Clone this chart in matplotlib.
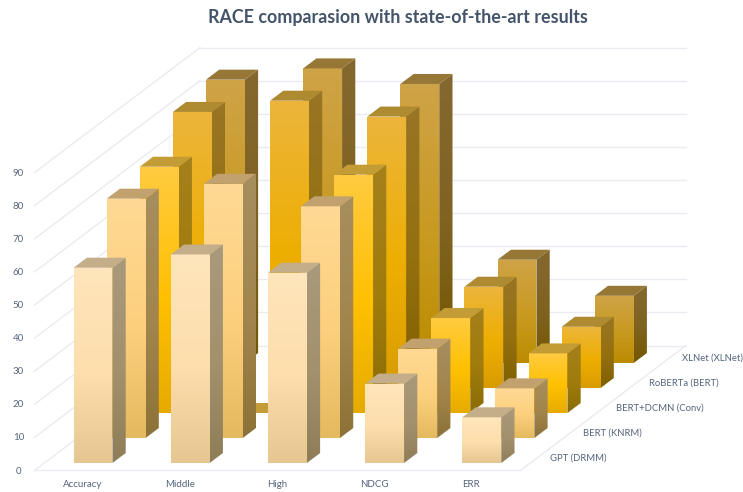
import numpy as np
import matplotlib
matplotlib.use("Agg")
import matplotlib.pyplot as plt
from matplotlib.colors import LinearSegmentedColormap
from matplotlib.patches import Polygon

title = "RACE comparasion with state-of-the-art results"
categories = ["Accuracy", "Middle", "High", "NDCG", "ERR"]
series_names = ["GPT (DRMM)", "BERT (KNRM)", "BERT+DCMN (Conv)", "RoBERTa (BERT)", "XLNet (XLNet)"]
gpt = [59, 63, 57.5, 24, 13.8]
bert = [72.3, 76.8, 70, 27, 15]
conv = [74.4, 0, 72, 28.7, 18]
roberta = [83.4, 86.8, 82, 30.6, 18.5]
xlnet = [85.6, 89, 84.3, 31.2, 20.3]
values = [gpt, bert, conv, roberta, xlnet]
yticks = list(range(0, 100, 10))

front_cols = [["#FFE5BB", "#FDDEAC", "#E6C791"], ["#FFD994", "#FCCF7C", "#E5B95F"],
              ["#FFCB40", "#FFC000", "#E6AB00"], ["#ECB53C", "#EEAE00", "#D89C00"],
              ["#CFA347", "#C89A20", "#BB8C00"]]
side_cols = [["#A99A7C", "#A3906C", "#8F7D58"], ["#A68E5E", "#A2854C", "#8C7238"],
             ["#A5801C", "#A07C0C", "#8A6C06"], ["#997525", "#94700F", "#7F5F00"],
             ["#84682F", "#806220", "#745700"]]
top_cols = ["#C4AD89", "#C1A26E", "#C39C36", "#AE8A31", "#967736"]

GRID = "#E9EBF1"
TXT = "#56657B"

fig = plt.figure(figsize=(7.43, 4.92), dpi=100)
ax = fig.add_axes([0, 0, 1, 1])
ax.axis("off")


def project(c, s, v):
    return 34.5 + 97.2 * c + 33.1 * s, 470.5 - 25.0 * s - 3.31 * v


def grad_face(pts, cols, z):
    pts = np.array(pts)
    poly = Polygon(pts, closed=True, fc="none", ec="none", transform=ax.transData)
    ax.add_patch(poly)
    cm = LinearSegmentedColormap.from_list("g", list(zip([0, 0.55, 1], cols)))
    im = ax.imshow(np.linspace(0, 1, 128)[:, None], cmap=cm, aspect="auto", zorder=z,
                   extent=(pts[:, 0].min(), pts[:, 0].max(), pts[:, 1].max(), pts[:, 1].min()),
                   interpolation="bilinear", origin="upper")
    im.set_clip_path(poly)


nc, ns = len(categories), len(series_names)
# walls and floor
for t in yticks:
    ax.plot(*zip(project(0, 0, t), project(0, ns, t)), color=GRID, lw=1, zorder=1)
    ax.plot(*zip(project(0, ns, t), project(nc, ns, t)), color=GRID, lw=1, zorder=1)
    x, y = project(0, 0, t)
    ax.text(18.5, y + 0.5, str(t), ha="center", va="center", fontsize=7, color=TXT, family="Lato")
ax.plot(*zip(project(0, 0, 0), project(nc, 0, 0), project(nc, ns, 0)), color=GRID, lw=1, zorder=1)

# bars, back to front
z = 2
for j in range(ns - 1, -1, -1):
    for i in range(nc):
        v = values[j][i]
        c0, c1, s0, s1 = i + 0.3, i + 0.7, j + 0.3, j + 0.7
        front = [project(c0, s0, v), project(c1, s0, v), project(c1, s0, 0), project(c0, s0, 0)]
        side = [project(c1, s0, v), project(c1, s1, v), project(c1, s1, 0), project(c1, s0, 0)]
        top = [project(c0, s0, v), project(c1, s0, v), project(c1, s1, v), project(c0, s1, v)]
        if v > 0:
            grad_face(side, side_cols[j], z)
            grad_face(front, front_cols[j], z + 0.1)
        ax.add_patch(Polygon(top, closed=True, fc=top_cols[j], ec="none", zorder=z + 0.2))
    z += 1

for i, name in enumerate(categories):
    x, _ = project(i + 0.5, 0, 0)
    ax.text(x - 0.5, 484.5, name, ha="center", va="center", fontsize=7, color=TXT, family="Lato")
for j, name in enumerate(series_names):
    x, y = project(nc, j + 0.5, 0)
    ax.text(x + 12.5, y + 0.5, name, ha="left", va="center", fontsize=6.8, color=TXT, family="Lato", clip_on=True)

ax.text(398, 18, title, ha="center", va="center", fontsize=12.9, fontweight="bold", color="#44546A", family="Lato")

ax.set_xlim(0, 743)
ax.set_ylim(492, 0)
fig.savefig("out.png", dpi=100, facecolor="white")
